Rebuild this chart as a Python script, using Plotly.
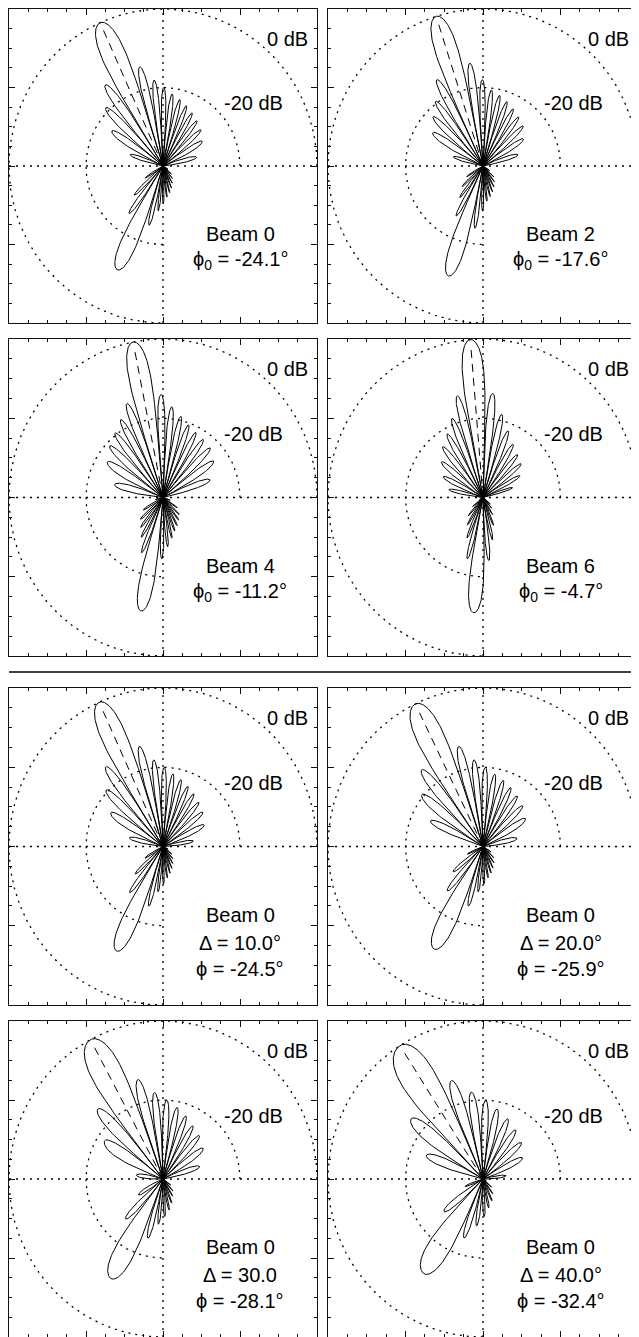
import numpy as np
import plotly.graph_objects as go

# ---------------- data ----------------
# lobe peak bearings (deg from vertical, + = right) and levels (dB); lower half is the mirror image
A_ANG = [-71.5, -56, -45, -36, -24.1, -13.4, -6, 0.5, 7.4, 14.4, 21.6, 29.2, 37.4, 46.7, 58, 75.5]
A_UP = [-31, -24, -19, -14.5, 0, -14, -18, -20, -21.5, -22.5, -23.5, -24.5, -25.5, -26.5, -28, -31]
A_LO = [-41, -34.5, -29.5, -25, -11, -24.5, -28.5, -30.5, -32, -33, -34, -35, -36, -37, -38.5, -41]

B_ANG = [-73, -56.7, -45.7, -36.6, -28.4, -17.6, -7.4, -0.5, 6.4, 13.4, 20.6, 28.2, 36.3, 45.4, 56.3, 72.2]
B_UP = [-32, -24.5, -22, -19.5, -15, 0, -13.6, -18, -20.5, -21.5, -22.5, -23.5, -24.5, -25.5, -27.5, -30.5]
B_LO = [-42, -35, -32.5, -30, -25.5, -10.6, -24, -28.5, -31, -32, -33, -34, -35, -36, -38, -41]

C_ANG = [-75.5, -58, -46.7, -37.4, -29.2, -21.6, -11.2, -1.1, 5.7, 12.7, 19.9, 27.4, 35.5, 44.4, 55, 70]
C_UP = [-27, -23, -21, -19.5, -17.5, -14.5, 0, -14, -17, -19, -20.5, -21.5, -22, -22.5, -24, -27]
C_LO = [-38, -34, -32, -30.5, -28.5, -25, -10.8, -24.5, -27.5, -29.5, -31, -32, -33, -34, -35.5, -38]

D_ANG = [-77.4, -63, -50, -39, -30, -21.8, -14.6, -4.7, 5.5, 13, 21, 30, 39.5, 49, 60, 72]
D_UP = [-31, -28.5, -26, -23.5, -21.5, -18.5, -13.5, 0, -13.6, -18.5, -22, -24.5, -26, -27, -29, -32]
D_LO = [-42, -39, -36.5, -34, -32, -29, -24, -10.8, -24, -29, -32.5, -35, -36.5, -37.5, -39.5, -42]

E_ANG = [-76, -57.7, -46, -36.5, -24.5, -13.6, -6.3, 0.9, 8, 15.4, 23, 31, 39.8, 49.9, 62.9, 80]
E_UP = [-31, -24, -19.5, -15, 0, -14, -18, -20, -21.5, -22.5, -23.5, -24.5, -25.5, -26.5, -28, -32]
E_LO = [-41, -34.5, -30, -25.5, -11, -24.5, -28.5, -30.5, -32, -33, -34, -35, -36, -37, -38.5, -42]

F_ANG = [-64.6, -50.2, -39.3, -25.9, -13.9, -6.1, 1.7, 9.4, 17.4, 25.7, 34.7, 44.7, 57, 76.9]
F_UP = [-25, -19.5, -15, 0, -14, -18, -20, -21.5, -22.5, -23.5, -24.5, -25.5, -27, -31]
F_LO = [-35.5, -30, -25.5, -11.2, -24.5, -28.5, -30.5, -32, -33, -34, -35, -36, -37.5, -41]

G_ANG = [-82, -57.2, -43.7, -28.1, -14.5, -5.8, 2.8, 11.5, 20.4, 29.9, 40.5, 53, 71.6]
G_UP = [-33, -22, -15.5, 0, -14, -18, -20, -21.5, -23, -24.5, -25.5, -27, -30]
G_LO = [-43, -32.5, -26, -11.4, -24.5, -28.5, -30.5, -32, -33.5, -35, -36, -37.5, -40]

H_ANG = [-67.7, -50.5, -32.4, -18.1, -7.8, 2, 11.5, 22.8, 34, 47, 62, 82]
H_UP = [-24.2, -16, 0, -13.8, -17.8, -20.1, -21.9, -23.5, -25, -26.5, -28.5, -34]
H_LO = [-35, -27, -11.6, -24.3, -28, -30.5, -32.5, -34, -35.5, -37, -39, -44]

STEER = [-24.1, -17.6, -11.2, -4.7, -24.5, -25.9, -28.1, -32.4]
LINE1 = ["Beam 0", "Beam 2", "Beam 4", "Beam 6", "Beam 0", "Beam 0", "Beam 0", "Beam 0"]
LINE2 = ["ϕ<sub>0</sub> = -24.1°", "ϕ<sub>0</sub> = -17.6°", "ϕ<sub>0</sub> = -11.2°", "ϕ<sub>0</sub> = -4.7°",
         "Δ = 10.0°", "Δ = 20.0°", "Δ = 30.0", "Δ = 40.0°"]
LINE3 = [None, None, None, None, "ϕ = -24.5°", "ϕ = -25.9°", "ϕ = -28.1°", "ϕ = -32.4°"]
RING_DB = [0, -20]
RING_LABELS = ["0 dB", "-20 dB"]
DB_FLOOR = -40

PANELS = [(A_ANG, A_UP, A_LO), (B_ANG, B_UP, B_LO), (C_ANG, C_UP, C_LO), (D_ANG, D_UP, D_LO),
          (E_ANG, E_UP, E_LO), (F_ANG, F_UP, F_LO), (G_ANG, G_UP, G_LO), (H_ANG, H_UP, H_LO)]

# ---------------- layout geometry (page pixels) ----------------
PAGE_W, PAGE_H = 639, 1337
OFF = 8                      # default body margin of the html page
W, H = PAGE_W - OFF, PAGE_H - OFF
COLS = [(9, 317), (328, 638)]
ROWS = [(9, 323), (339, 656), (688, 1005), (1021, 1337)]
SEP_Y = 672


def fx(px):
    return min(max((px - OFF) / W, 0.0), 1.0)


def fy(py):
    return min(max(1 - (py - OFF) / H, 0.0), 1.0)


def rad(db):
    return np.clip((np.asarray(db, float) - DB_FLOOR) / (-DB_FLOOR), 0, None)


def lobe_curve(angs, dbs):
    angs = np.asarray(angs, float)
    dbs = np.asarray(dbs, float)
    imain = int(np.argmax(dbs))
    n = len(angs)
    # boundaries (nulls) between consecutive lobes
    bnd = []
    for j in range(n - 1):
        a, b = angs[j], angs[j + 1]
        if j == imain:
            bnd.append(a + (b - a) * 0.62)
        elif j + 1 == imain:
            bnd.append(b - (b - a) * 0.62)
        else:
            bnd.append(0.5 * (a + b))
    th_all, r_all = [], []
    t = np.linspace(-1, 1, 101)
    for i, (a, d) in enumerate(zip(angs, dbs)):
        wl = a - bnd[i - 1] if i > 0 else bnd[0] - angs[0]
        wr = bnd[i] - a if i < n - 1 else a - bnd[-1]
        w = np.where(t < 0, wl, wr)
        th = a + t * w
        amp = np.maximum(np.cos(np.pi / 2 * t), 1e-9) ** 0.8
        r = rad(d + 20 * np.log10(amp))
        th_all.append(th)
        r_all.append(r)
    return np.concatenate(th_all), np.concatenate(r_all)


fig = go.Figure()
layout = dict(width=W, height=H, margin=dict(l=0, r=0, t=0, b=0),
              paper_bgcolor="white", plot_bgcolor="white", showlegend=False)
shapes = []
annotations = []
FONT = dict(family="Liberation Sans, Arial, sans-serif", size=20, color="black")
DOT = "2px,5px"

for i, (angs, up, lo) in enumerate(PANELS):
    row, col = i // 2, i % 2
    k = i + 1
    xa, ya = f"x{k}", f"y{k}"
    x0p, x1p = COLS[col]
    y0p, y1p = ROWS[row]
    axcommon = dict(range=[-1, 1], showgrid=False, zeroline=False, showticklabels=False,
                    showline=True, linecolor="#111", linewidth=1, mirror="ticks",
                    ticks="inside", ticklen=6, tickwidth=1, tickcolor="#111", tick0=0, dtick=0.5,
                    minor=dict(ticks="inside", ticklen=3, tickwidth=1, tickcolor="#111",
                               tick0=0, dtick=0.125, showgrid=False),
                    fixedrange=True)
    layout["xaxis" + ("" if k == 1 else str(k))] = dict(axcommon, domain=[fx(x0p), fx(x1p)], anchor=ya)
    layout["yaxis" + ("" if k == 1 else str(k))] = dict(axcommon, domain=[fy(y1p), fy(y0p)], anchor=xa)

    # dotted rings (three quadrants)
    for rdb in RING_DB:
        rr = float(rad(rdb))
        al = np.linspace(0, 1.5 * np.pi, 300)
        fig.add_trace(go.Scatter(x=rr * np.cos(al), y=rr * np.sin(al), mode="lines",
                                 line=dict(color="black", width=1.3, dash=DOT),
                                 xaxis=xa, yaxis=ya, hoverinfo="skip"))
    # dotted cross hairs
    shapes.append(dict(type="line", xref=xa, yref=ya, x0=-1, x1=1, y0=0, y1=0,
                       line=dict(color="black", width=1.3, dash=DOT)))
    shapes.append(dict(type="line", xref=xa, yref=ya, x0=0, x1=0, y0=-1, y1=1,
                       line=dict(color="black", width=1.3, dash=DOT)))

    # beam pattern: upper half then mirrored lower half
    th_u, r_u = lobe_curve(angs, up)
    th_l, r_l = lobe_curve(angs, lo)
    xu = r_u * np.sin(np.radians(th_u))
    yu = r_u * np.cos(np.radians(th_u))
    xl = (r_l * np.sin(np.radians(th_l)))[::-1]
    yl = (-r_l * np.cos(np.radians(th_l)))[::-1]
    fig.add_trace(go.Scatter(x=np.concatenate([xu, xl]), y=np.concatenate([yu, yl]),
                             mode="lines", line=dict(color="black", width=1),
                             xaxis=xa, yaxis=ya, hoverinfo="skip"))
    # dashed steering line
    s = np.radians(STEER[i])
    fig.add_trace(go.Scatter(x=[0, 0.97 * np.sin(s)], y=[0, 0.97 * np.cos(s)], mode="lines",
                             line=dict(color="black", width=1, dash="8px,6px"),
                             xaxis=xa, yaxis=ya, hoverinfo="skip"))

    # labels
    annotations.append(dict(x=0.81, y=0.81, xref=xa, yref=ya, text=RING_LABELS[0], showarrow=False,
                            font=FONT, xanchor="center", yanchor="middle"))
    annotations.append(dict(x=0.585, y=0.40, xref=xa, yref=ya, text=RING_LABELS[1], showarrow=False,
                            font=FONT, xanchor="center", yanchor="middle"))
    if LINE3[i] is None:
        ys = [-0.43, -0.60]
        texts = [LINE1[i], LINE2[i]]
    else:
        ys = [-0.43, -0.61, -0.77]
        texts = [LINE1[i], LINE2[i], LINE3[i]]
    for yv, tx in zip(ys, texts):
        annotations.append(dict(x=0.50, y=yv, xref=xa, yref=ya, text=tx, showarrow=False,
                                font=FONT, xanchor="center", yanchor="middle"))

shapes.append(dict(type="line", xref="paper", yref="paper", x0=fx(9), x1=1, y0=fy(SEP_Y),
                   y1=fy(SEP_Y), line=dict(color="black", width=1.5)))

layout["shapes"] = shapes
layout["annotations"] = annotations
fig.update_layout(**layout)
fig.write_html("out.html")
